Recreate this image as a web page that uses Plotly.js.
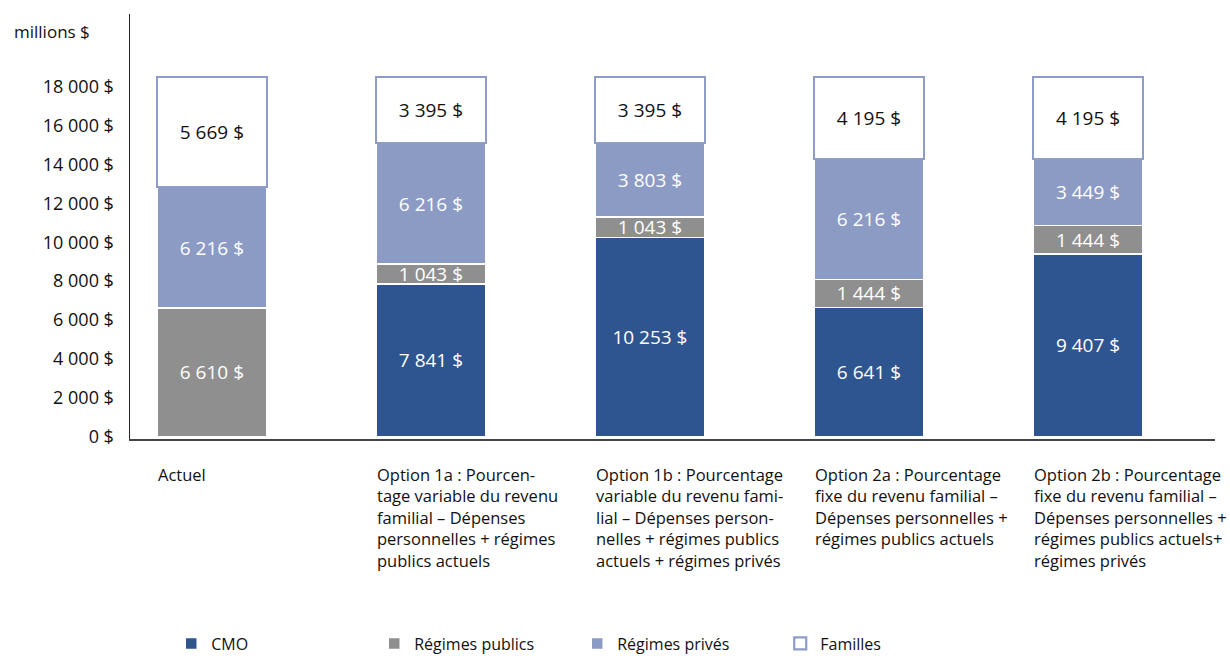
<!DOCTYPE html>
<html>
<head>
<meta charset="utf-8">
<script src="https://cdn.plot.ly/plotly-3.0.1.min.js"></script>
<style>html,body{margin:0;padding:0;background:#fff;}#chart{width:1230px;height:658px;}</style>
</head>
<body>
<div id="chart"></div>
<script>
const categories = ["Actuel", "Option 1a", "Option 1b", "Option 2a", "Option 2b"];
const categoryLabels = [
  "Actuel",
  "Option 1a : Pourcen-<br>tage variable du revenu<br>familial – Dépenses<br>personnelles + régimes<br>publics actuels",
  "Option 1b : Pourcentage<br>variable du revenu fami-<br>lial – Dépenses person-<br>nelles + régimes publics<br>actuels + régimes privés",
  "Option 2a : Pourcentage<br>fixe du revenu familial –<br>Dépenses personnelles +<br>régimes publics actuels",
  "Option 2b : Pourcentage<br>fixe du revenu familial –<br>Dépenses personnelles +<br>régimes publics actuels+<br>régimes privés"
];
const cmo = [null, 7841, 10253, 6641, 9407];
const regimesPublics = [6610, 1043, 1043, 1444, 1444];
const regimesPrives = [6216, 6216, 3803, 6216, 3449];
const familles = [5669, 3395, 3395, 4195, 4195];
const yTickValues = [0, 2000, 4000, 6000, 8000, 10000, 12000, 14000, 16000, 18000];
const yTickLabels = ["0 $", "2 000 $", "4 000 $", "6 000 $", "8 000 $", "10 000 $", "12 000 $", "14 000 $", "16 000 $", "18 000 $"];

const FONT = "'Open Sans', Lato, sans-serif";

function seg(name, values, color, lineColor, lineWidth, textColor) {
  return {
    type: "bar", name: name, x: categories, y: values,
    marker: {color: color, line: {color: lineColor, width: lineWidth}},
    texttemplate: "%{y:,.0f} $", textposition: "inside", insidetextanchor: "middle",
    textangle: 0, constraintext: "none",
    textfont: {family: FONT, size: 19, color: textColor},
    hoverinfo: "skip"
  };
}

const traces = [
  seg("CMO", cmo, "#2E5590", "#ffffff", 1.5, "#ffffff"),
  seg("Régimes publics", regimesPublics, "#8F8F8F", "#ffffff", 1.5, "#ffffff"),
  seg("Régimes privés", regimesPrives, "#8C9BC4", "#ffffff", 1.5, "#ffffff"),
  seg("Familles", familles, "#ffffff", "#8E9DC8", 2.2, "#111111")
];

const annotations = categories.map((c, i) => ({
  xref: "x", yref: "paper", x: c, y: 0,
  xanchor: "left", yanchor: "top", xshift: -56, yshift: -22,
  align: "left", showarrow: false,
  text: categoryLabels[i],
  font: {family: FONT, size: 16.5, color: "#111111"}
}));
annotations.push({
  xref: "paper", yref: "paper", x: -0.109, y: 1, xanchor: "left", yanchor: "top",
  yshift: -4, showarrow: false, text: "millions $",
  font: {family: FONT, size: 17, color: "#111111"}
});

const layout = {
  width: 1230, height: 658,
  margin: {l: 130, r: 15, t: 14, b: 219, autoexpand: false},
  paper_bgcolor: "#ffffff", plot_bgcolor: "#ffffff",
  separators: ", ",
  barmode: "stack", bargap: 0.5,
  font: {family: FONT, size: 16, color: "#111111"},
  xaxis: {
    type: "category", range: [-0.374, 4.58], showticklabels: false,
    showgrid: false, zeroline: false, showline: true, linecolor: "#444444", linewidth: 2,
    ticks: "", fixedrange: true
  },
  yaxis: {
    range: [-130, 21750], tickmode: "array", tickvals: yTickValues, ticktext: yTickLabels,
    showgrid: false, zeroline: false, showline: true, linecolor: "#222222", linewidth: 1.5,
    ticks: "", ticklabelstandoff: 11,
    tickfont: {family: FONT, size: 18, color: "#111111"}, fixedrange: true
  },
  showlegend: true,
  legend: {
    orientation: "h", x: 0.038, xanchor: "left", yref: "container", y: 0.022, yanchor: "middle",
    traceorder: "normal", entrywidth: 158, entrywidthmode: "pixels",
    font: {family: FONT, size: 16, color: "#111111"}
  },
  annotations: annotations
};

Plotly.newPlot("chart", traces, layout, {displayModeBar: false, staticPlot: true});
</script>
</body>
</html>
